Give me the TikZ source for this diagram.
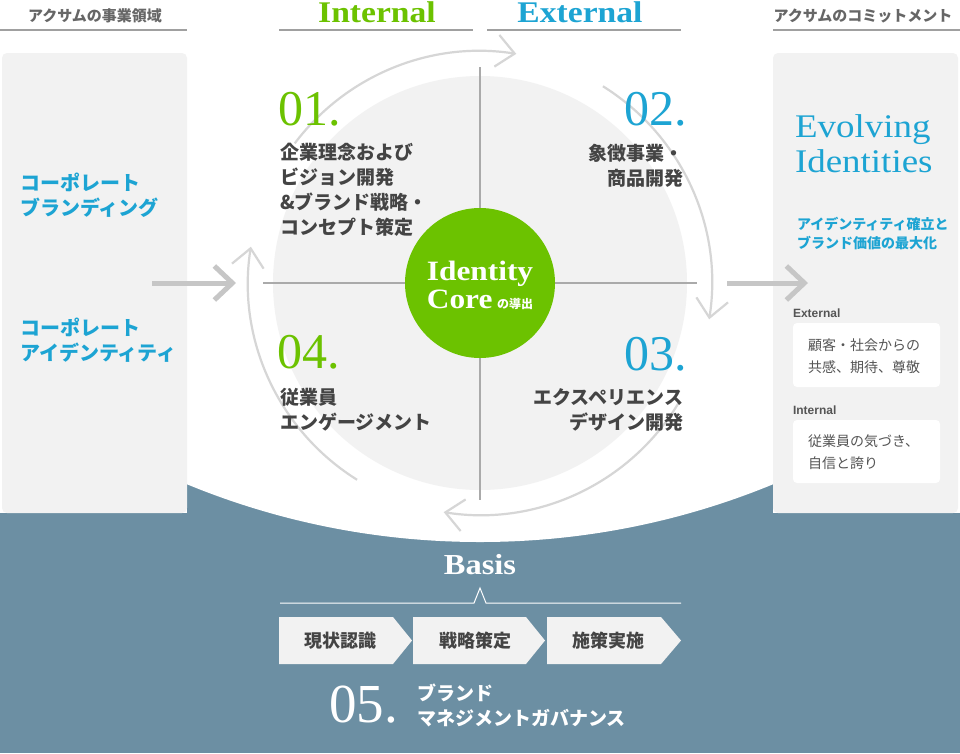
\documentclass[tikz,border=0pt]{standalone}
\usepackage{fontspec}
\setmainfont{Liberation Serif}
\newfontfamily\jp{Noto Sans CJK JP}
\newfontfamily\ser[FakeStretch=1.12]{Liberation Serif}
\newfontfamily\lsans{Liberation Sans}
\usetikzlibrary{arrows.meta}
\definecolor{acgreen}{RGB}{108,194,0}
\definecolor{acblue}{RGB}{29,164,211}
\definecolor{bluebg}{RGB}{108,143,163}
\definecolor{panelgray}{RGB}{242,242,242}
\definecolor{ringgray}{RGB}{214,214,214}
\definecolor{crossgray}{RGB}{170,170,170}
\definecolor{arrowgray}{RGB}{198,198,198}
\definecolor{hdrgray}{RGB}{102,102,102}
\definecolor{hdrline}{RGB}{160,160,160}
\definecolor{txtdark}{RGB}{68,68,68}
\definecolor{txtmid}{RGB}{85,85,85}
\newcommand\myfs[2]{\fontsize{#1}{#2}\selectfont}
\begin{document}
\begin{tikzpicture}[x=1pt,y=-1pt,
  every node/.style={inner sep=0pt, outer sep=0pt},
  hdrjp/.style={font=\jp\bfseries\myfs{15}{18}, text=hdrgray},
  hdrline/.style={draw=hdrline, line width=1.5pt},
  ring/.style={draw=ringgray, line width=2.2pt, -{Straight Barb[length=18pt,width=32pt,line width=2.2pt]}},
  bigarrow/.style={draw=arrowgray, line width=5pt, -{Straight Barb[length=18pt,width=34pt,line width=5pt]}},
  quadtxt/.style={font=\jp\bfseries\myfs{19}{25}, text=txtdark},
  num/.style={font=\myfs{50}{50}},
  paneltxt/.style={font=\jp\bfseries\myfs{20}{25}, text=acblue, align=left, anchor=west},
  boxtxt/.style={font=\jp\myfs{14}{22}, text=txtmid, align=left, anchor=west},
  smalllbl/.style={font=\lsans\bfseries\myfs{12}{14}, text=txtmid, anchor=west},
  chev/.style={fill=panelgray},
  chevtxt/.style={font=\jp\bfseries\myfs{18}{20}, text=txtdark}
]
\useasboundingbox (0,0) rectangle (960,753);
\fill[white] (0,0) rectangle (960,753);

% blue base region
\fill[bluebg] (0,513) rectangle (960,753);
\begin{scope}
  \clip (187,380) rectangle (773,560);
  \fill[bluebg] (187,380) rectangle (773,560);
  \fill[white] (480,-228) circle[radius=770];
\end{scope}

% side panels
\fill[panelgray, rounded corners=5pt] (2,53) rectangle (187,513);
\fill[panelgray, rounded corners=5pt] (773,53) rectangle (958,513);

% headers
\node[hdrjp] (hL) at (95,16) {アクサムの事業領域};
\node[hdrjp] (hR) at (863,16) {アクサムのコミットメント};
\node[font=\ser\bfseries\myfs{30}{30}, text=acgreen, anchor=base] (hI) at (377,22) {Internal};
\node[font=\ser\bfseries\myfs{30}{30}, text=acblue, anchor=base] (hE) at (580,22) {External};
\draw[hdrline] (0,30) -- (187,30);
\draw[hdrline] (279,30) -- (473,30);
\draw[hdrline] (487,30) -- (681,30);
\draw[hdrline] (773,30) -- (960,30);

% central gray circle
\coordinate (c) at (480,283);
\fill[panelgray] (c) circle[radius=207];

% ring arcs
\draw[ring] ([shift={(-143:232)}]c) arc[start angle=-143,end angle=-81,radius=232];
\draw[ring] ([shift={(-58:232)}]c) arc[start angle=-58,end angle=9,radius=232];
\draw[ring] ([shift={(31:232)}]c) arc[start angle=31,end angle=99,radius=232];
\draw[ring] ([shift={(122:232)}]c) arc[start angle=122,end angle=189,radius=232];

% cross lines
\draw[crossgray, line width=1.5pt] (480,67) -- (480,500);
\draw[crossgray, line width=1.5pt] (263,283) -- (697,283);

% core
\node[circle, fill=acgreen, minimum size=150pt] (core) at (c) {};
\node[font=\ser\bfseries\myfs{28}{28}, text=white, anchor=base] (coreA) at (480,280) {Identity};
\node[font=\ser\bfseries\myfs{28}{28}, text=white, anchor=base] (coreB) at (480,308) {Core\,{\jp\bfseries\myfs{12}{12}の導出}};

% big arrows
\coordinate (la1) at (152,283);
\coordinate (la2) at (236,283);
\coordinate (ra1) at (727,283);
\coordinate (ra2) at (808,283);
\draw[bigarrow] (la1) -- (la2);
\draw[bigarrow] (ra1) -- (ra2);

% quadrant numbers
\node[num, text=acgreen, anchor=base west] (n1) at (278,125) {01.};
\node[num, text=acblue, anchor=base east] (n2) at (687,125) {02.};
\node[num, text=acblue, anchor=base east] (n3) at (687,370) {03.};
\node[num, text=acgreen, anchor=base west] (n4) at (277,368) {04.};

% quadrant texts
\node[quadtxt, align=left, anchor=west] (t1) at (280,190) {企業理念および\\ビジョン開発\\\&ブランド戦略・\\コンセプト策定};
\node[quadtxt, align=right, anchor=east] (t2) at (683,166) {象徴事業・\\商品開発};
\node[quadtxt, align=right, anchor=east] (t3) at (683,409.5) {エクスペリエンス\\デザイン開発};
\node[quadtxt, align=left, anchor=west] (t4) at (280,409.5) {従業員\\エンゲージメント};

% left panel texts
\node[paneltxt] (p1) at (20,195.5) {コーポレート\\ブランディング};
\node[paneltxt] (p2) at (20,340.5) {コーポレート\\アイデンティティ};

% right panel
\node[font=\ser\myfs{33}{33}, text=acblue, anchor=base west] (ev1) at (795,137) {Evolving};
\node[font=\ser\myfs{33}{33}, text=acblue, anchor=base west] (ev2) at (795,172) {Identities};
\node[font=\jp\bfseries\myfs{14}{19}, text=acblue, align=left, anchor=west] (evs) at (797,234) {アイデンティティ確立と\\ブランド価値の最大化};
\node[smalllbl] (lx) at (793,313) {External};
\fill[white, rounded corners=4pt] (793,323) rectangle (940,387);
\node[boxtxt] (bx) at (808,356) {顧客・社会からの\\共感、期待、尊敬};
\node[smalllbl] (li) at (793,410) {Internal};
\fill[white, rounded corners=4pt] (793,420) rectangle (940,483);
\node[boxtxt] (bi) at (808,452.5) {従業員の気づき、\\自信と誇り};

% basis
\node[font=\ser\bfseries\myfs{29}{29}, text=white, anchor=base] (basis) at (480,574) {Basis};
\draw[white, line width=1pt] (280,603) -- (474,603) -- (480,588) -- (486,603) -- (681,603);
\fill[chev] (279,617) -- (393,617) -- (412,640.5) -- (393,664) -- (279,664) -- cycle;
\fill[chev] (413,617) -- (526,617) -- (545,640.5) -- (526,664) -- (413,664) -- cycle;
\fill[chev] (547,617) -- (661,617) -- (681,640.5) -- (661,664) -- (547,664) -- cycle;
\node[chevtxt] (s1) at (340,641) {現状認識};
\node[chevtxt] (s2) at (475,641) {戦略策定};
\node[chevtxt] (s3) at (608,641) {施策実施};
\node[font=\myfs{55}{55}, text=white, anchor=base west] (n5) at (329,722) {05.};
\node[font=\jp\bfseries\myfs{19}{25}, text=white, align=left, anchor=west] (t5) at (417,705.5) {ブランド\\マネジメントガバナンス};
\end{tikzpicture}
\end{document}
